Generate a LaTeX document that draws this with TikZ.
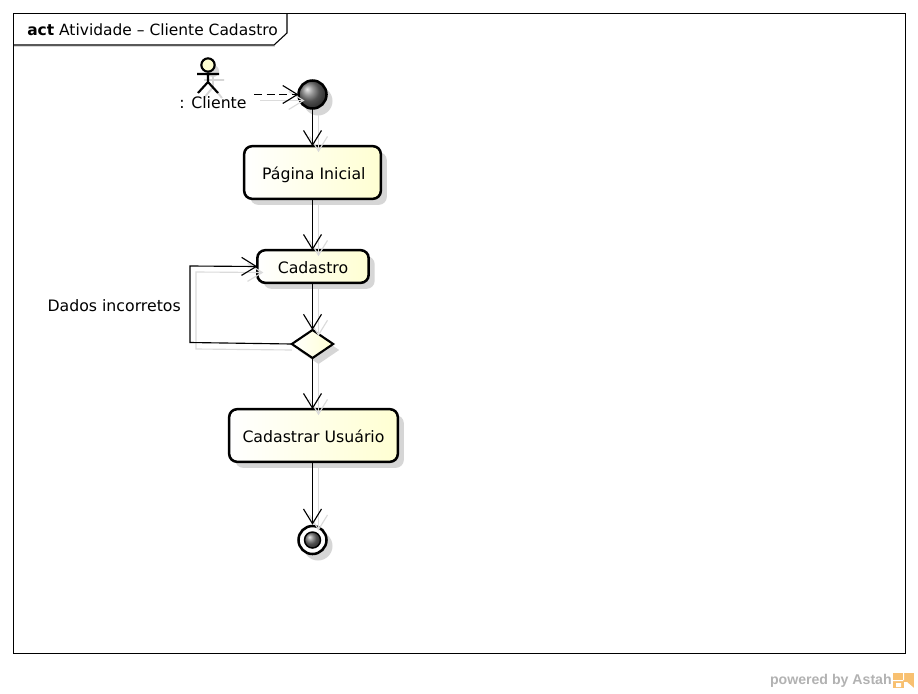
\documentclass[tikz,border=0pt]{standalone}
\usepackage{fontspec}
\setmainfont{DejaVu Sans}
\newfontfamily\astahfont{Liberation Sans}
\usetikzlibrary{arrows.meta,shapes.geometric,shadows,calc}
\definecolor{shd}{gray}{0.84}
\definecolor{nodeyellow}{HTML}{FFFFD2}
\definecolor{logoorange}{HTML}{F8C070}
\tikzset{
  x=0.75pt,y=-0.75pt,
  shadowbox/.style={general shadow={shadow xshift=4.5pt,shadow yshift=-4.5pt,fill=shd}},
  action/.style={rectangle,draw=black,line width=1.9pt,rounded corners=6pt,inner sep=0pt,outer sep=0pt,
    left color=white,right color=nodeyellow,font=\fontsize{11.8pt}{13pt}\selectfont,text height=11pt,text depth=0.2pt,shadowbox},
  branch/.style={diamond,draw=black,line width=1.6pt,inner sep=0pt,outer sep=0pt,minimum width=31pt,minimum height=21pt,
    left color=white,right color=nodeyellow,shadowbox},
  ball/.style={circle,draw=black,line width=1.9pt,inner sep=0pt,outer sep=0pt,ball color=black!55},
  flow/.style={draw=black,line width=0.85pt,-{Straight Barb[length=11pt,width=13.5pt,line width=0.85pt]}},
  flowshadow/.style={draw=black!14,line width=0.85pt,-{Straight Barb[length=11pt,width=13.5pt,line width=0.85pt]}},
  label/.style={inner sep=0pt,font=\fontsize{11.8pt}{13pt}\selectfont},
}
\begin{document}
\begin{tikzpicture}
\useasboundingbox (0,0) rectangle (918,693);
\fill[white] (0,0) rectangle (918,693);
% frame
\draw[black!15,line width=0.75pt] (14,46.5) -- (275,46.5);
\draw[black,line width=0.8pt] (13.5,13.5) rectangle (905.5,653.5);
\draw[black,line width=0.8pt] (13.5,45) -- (274,45) -- (287,33) -- (287,13.5);
\node[label,anchor=west,font=\fontsize{11.6pt}{13pt}\selectfont] (frametitle) at (27,30) {\textbf{act} Atividade – Cliente Cadastro};
% actor
\fill[shd] (213,71) circle[radius=6];
\draw[shd,line width=1.4pt] (213,77) -- (213,87) (204,80) -- (224,80) (213,87) -- (204,98) (213,87) -- (222,98);
\node[circle,draw=black,line width=1.6pt,fill=nodeyellow,minimum size=10pt,inner sep=0pt] (head) at (208,65) {};
\draw[black,line width=1.6pt] (head.south) -- (208,82) (197,74) -- (219,74) (208,82) -- (198,93) (208,82) -- (218,93);
\node[label] (actorlabel) at (213,103) {: Cliente};
\coordinate (actorout) at (254,94.5);
% shadows of circles
\fill[shd] (318,101) circle[radius=14.5];
\fill[shd] (318,546) circle[radius=14.5];
% nodes
\node[ball,minimum size=21pt] (start) at (312.5,94.5) {};
\node[action,minimum width=102.5pt,minimum height=39.5pt] (home) at (312.5,172.5) {\hspace{2pt}Página Inicial};
\node[action,minimum width=83.5pt,minimum height=24.5pt] (signup) at (313,266.5) {Cadastro};
\node[branch] (decision) at (312.5,344) {};
\node[action,minimum width=126.5pt,minimum height=39.5pt] (register) at (313.5,435.5) {Cadastrar Usuário};
\node[circle,draw=black,line width=1.9pt,fill=white,minimum size=21pt,inner sep=0pt] (end) at (312.5,540) {};
\node[ball,minimum size=12pt,line width=1.1pt] (endcore) at (312.5,540) {};
\node[label,anchor=east] (looplabel) at (181,306) {Dados incorretos};
% connector shadows
\draw[flowshadow] ([shift={(6,6)}]actorout) -- ([shift={(6,6)}]start.west);
\draw[flowshadow] ([shift={(6,6)}]start.south) -- ([shift={(6,6)}]start.south |- home.north);
\draw[flowshadow] ([shift={(6,6)}]home.south) -- ([shift={(6,6)}]home.south |- signup.north);
\draw[flowshadow] ([shift={(6,6)}]decision.north |- signup.south) -- ([shift={(6,6)}]decision.north);
\draw[flowshadow] ([shift={(6,6)}]decision.south) -- ([shift={(6,6)}]decision.south |- register.north);
\draw[flowshadow] ([shift={(6,6)}]end.north |- register.south) -- ([shift={(6,6)}]end.north);
\draw[flowshadow] ([shift={(0,6)}]decision.west) -- (196,349) -- (196,272) -- ([shift={(6,6)}]signup.west);
% connectors
\draw[flow,dashed,dash pattern=on 6pt off 3.5pt] (actorout) -- (start.west);
\draw[flow] (start.south) -- (start.south |- home.north);
\draw[flow] (home.south) -- (home.south |- signup.north);
\draw[flow] (decision.north |- signup.south) -- (decision.north);
\draw[flow] (decision.south) -- (decision.south |- register.north);
\draw[flow] (end.north |- register.south) -- (end.north);
\draw[flow] (decision.west) -- (190,342.5) -- (190,266) -- (signup.west);
% watermark
\node[inner sep=0pt,anchor=east,text=black!30,font=\astahfont\bfseries\fontsize{10.6pt}{12pt}\selectfont] (powered) at (892,681) {powered by Astah};
\fill[logoorange] (893,673) rectangle (914,688);
\fill[white] (893,680) rectangle (903,681) (903,673) rectangle (904,680);
\fill[white] (896,683) rectangle (901,687) (904,688) -- (904,682) -- (907,682) -- (914,688) -- cycle;
\end{tikzpicture}
\end{document}
